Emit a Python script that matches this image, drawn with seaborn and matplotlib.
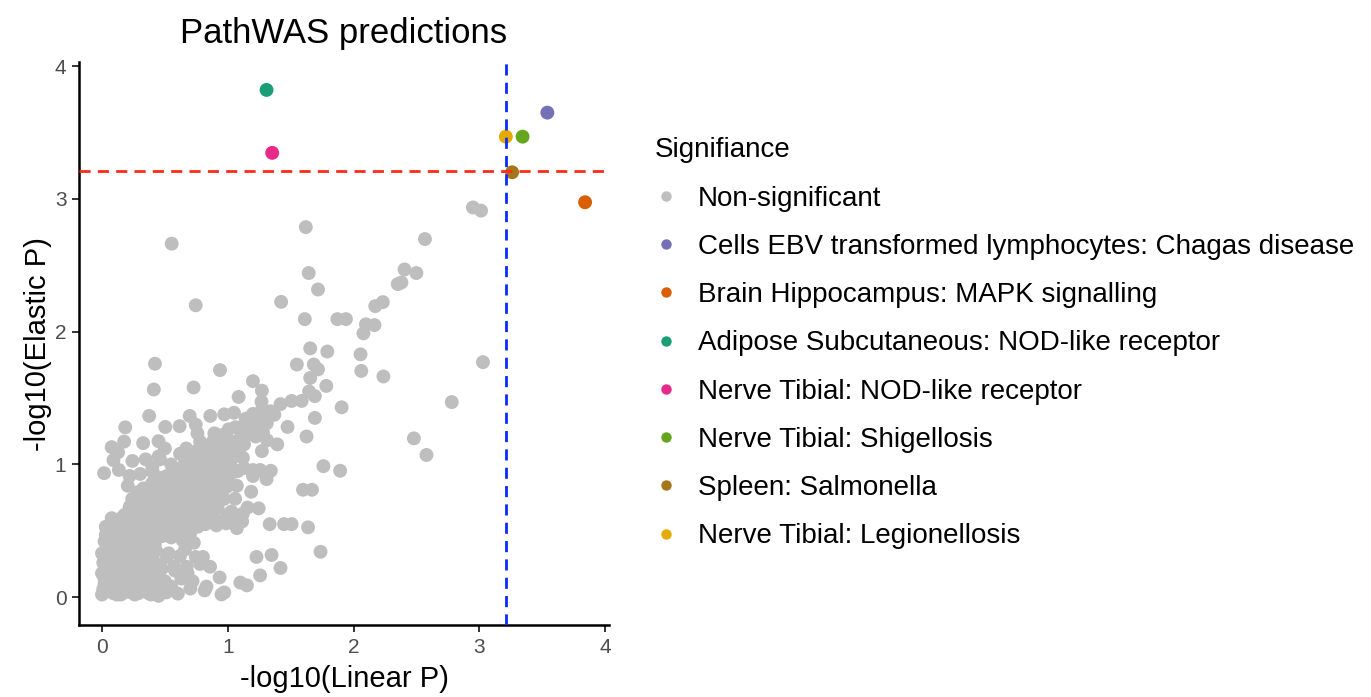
import matplotlib
matplotlib.use("Agg")
import matplotlib.pyplot as plt
from matplotlib.lines import Line2D
import seaborn as sns
import pandas as pd

# ---------------- data ----------------
gray_x = [
    2.948, 3.013, 1.620, 0.554, 2.567, 1.643, 2.405, 2.499, 1.717, 2.351, 2.380, 1.424, 0.745, 2.172, 2.232,
    1.612, 1.871, 1.939, 2.098, 2.166, 2.078, 1.655, 1.791, 2.055, 0.421, 1.549, 1.683, 1.717, 0.938, 2.061,
    2.237, 1.655, 3.028, 1.200, 0.728, 0.412, 1.783, 1.271, 1.646, 1.692, 1.086, 1.268, 1.419, 1.507, 1.587,
    1.905, 2.780, 0.375, 0.697, 0.861, 0.972, 1.049, 1.143, 1.228, 1.313, 1.370, 1.692, 0.185, 0.503, 0.617,
    0.745, 0.759, 0.893, 1.006, 1.114, 1.475, 1.222, 0.176, 0.327, 0.449, 2.479, 1.626, 1.313, 1.393, 0.077,
    0.128, 0.788, 0.907, 1.001, 1.058, 1.129, 1.271, 2.579, 0.091, 0.242, 0.347, 0.461, 0.660, 0.759, 0.844,
    0.958, 1.100, 0.017, 0.134, 0.219, 0.304, 0.404, 0.517, 0.603, 0.702, 1.129, 1.200, 1.257, 1.342, 1.200,
    1.308, 1.760, 1.893, 0.205, 0.339, 1.072, 1.186, 1.598, 1.669, 0.262, 1.058, 1.157, 1.245, 1.029, 0.077,
    1.114, 1.072, 1.333, 1.447, 1.507, 1.638, 0.830, 0.910, 0.987, 1.737, 1.228, 1.348, 1.419, 1.257, 1.100,
    1.152, 0.972, 0.950, 0.935, 0.830, 0.816, 0.702, 0.603, 0.512, 0.859, 0.802, 0.745, 0.674, 0.631, 0.574,
    0.517, 0.475,
    # dense block near origin
    0.00, 0.02, 0.00, 0.01, 0.00, 0.03, 0.06, 0.05, 0.07, 0.04, 0.09, 0.11, 0.10, 0.12, 0.10, 0.13, 0.15,
    0.17, 0.16, 0.18, 0.15, 0.19, 0.21, 0.23, 0.22, 0.24, 0.21, 0.26, 0.28, 0.27, 0.29, 0.26, 0.30, 0.32,
    0.33, 0.34, 0.31, 0.35, 0.37, 0.39, 0.38, 0.40, 0.36, 0.42, 0.43, 0.41, 0.44,
    0.05, 0.08, 0.02, 0.13, 0.14, 0.19, 0.20, 0.25, 0.25, 0.30, 0.30, 0.35, 0.36, 0.40, 0.44, 0.07, 0.17,
    0.23, 0.33, 0.39, 0.45,
    0.02, 0.04, 0.08, 0.12, 0.12, 0.16, 0.18, 0.20, 0.24, 0.27, 0.29, 0.32, 0.34, 0.37, 0.40, 0.42, 0.06,
    0.01, 0.09, 0.03,
    0.47, 0.50, 0.46, 0.55, 0.58, 0.62, 0.68, 0.72, 0.78, 0.66, 0.53,
    0.03, 0.08, 0.06, 0.12, 0.17, 0.14, 0.20, 0.23, 0.27, 0.25, 0.31, 0.33, 0.36, 0.39, 0.42, 0.45, 0.48,
    0.51, 0.55, 0.57, 0.60, 0.64, 0.67, 0.70, 0.73, 0.76, 0.79,
    0.10, 0.16, 0.21, 0.29, 0.35, 0.31, 0.38, 0.44, 0.46, 0.53, 0.56, 0.61, 0.64, 0.69, 0.72, 0.75, 0.80,
    0.83, 0.87, 0.91, 0.95, 0.99, 0.62, 0.52, 0.42, 0.36, 0.29, 0.66, 0.78, 0.84, 0.91, 0.96, 1.04, 0.58,
    0.62, 0.68, 0.48, 0.41,
    # diagonal band
    0.20, 0.26, 0.32, 0.38, 0.44, 0.50, 0.56, 0.62, 0.68, 0.74, 0.80, 0.86, 0.92, 0.98,
    0.27, 0.33, 0.39, 0.45, 0.51, 0.57, 0.63, 0.69, 0.75, 0.81, 0.87, 0.93, 0.99,
    0.18, 0.24, 0.30, 0.36, 0.42, 0.48, 0.54, 0.60, 0.66, 0.72, 0.78, 0.84, 0.90,
    0.82, 0.88, 0.94, 1.00, 1.06, 1.12, 0.76,
    0.18, 0.22, 0.26, 0.24, 0.30, 0.28, 0.34, 0.37, 0.33, 0.41, 0.44, 0.40, 0.47, 0.50, 0.52, 0.55, 0.58,
    0.60, 0.63, 0.66, 0.68, 0.71, 0.74, 0.76, 0.79, 0.82, 0.85, 0.88, 0.90, 0.94, 0.97, 1.00, 0.86, 0.92,
    0.48, 0.57, 0.65, 0.72,
    0.70, 0.75, 0.80, 0.83, 0.87, 0.90, 0.93, 0.96, 1.02, 1.05, 1.08, 1.12, 0.78, 0.98, 1.03, 0.62, 0.67,
    0.55, 0.40, 0.45, 0.50, 0.73, 0.85, 0.92, 1.00, 0.88, 0.95, 1.09,
    1.15, 1.18, 1.22, 1.25, 1.28, 1.31, 1.20, 1.27, 1.34, 1.10, 1.06,
]
gray_y = [
    2.935, 2.911, 2.787, 2.662, 2.697, 2.441, 2.468, 2.441, 2.317, 2.358, 2.370, 2.224, 2.198, 2.192, 2.222,
    2.094, 2.094, 2.094, 2.055, 2.049, 1.987, 1.874, 1.850, 1.829, 1.758, 1.752, 1.752, 1.716, 1.710, 1.704,
    1.662, 1.651, 1.770, 1.627, 1.579, 1.564, 1.591, 1.555, 1.549, 1.514, 1.508, 1.472, 1.454, 1.478, 1.478,
    1.430, 1.469, 1.365, 1.365, 1.365, 1.377, 1.389, 1.344, 1.329, 1.374, 1.374, 1.350, 1.279, 1.282, 1.288,
    1.300, 1.234, 1.234, 1.264, 1.285, 1.282, 1.210, 1.172, 1.160, 1.175, 1.196, 1.210, 1.181, 1.151, 1.130,
    1.091, 1.127, 1.121, 1.127, 1.145, 1.151, 1.100, 1.071, 1.032, 1.026, 1.038, 1.038, 1.017, 1.047, 1.047,
    1.032, 1.062, 0.934, 0.958, 0.913, 0.928, 0.943, 0.913, 0.958, 0.943, 0.972, 0.958, 0.958, 0.952, 0.913,
    0.889, 0.987, 0.952, 0.839, 0.809, 0.839, 0.794, 0.809, 0.809, 0.735, 0.741, 0.675, 0.669, 0.645, 0.595,
    0.571, 0.520, 0.550, 0.550, 0.550, 0.526, 0.556, 0.541, 0.556, 0.342, 0.303, 0.318, 0.220, 0.164, 0.110,
    0.089, 0.036, 0.021, 0.149, 0.080, 0.051, 0.065, 0.027, 0.036, 0.229, 0.303, 0.303, 0.229, 0.140, 0.229,
    0.303, 0.214,
    0.02, 0.10, 0.18, 0.26, 0.33, 0.05, 0.14, 0.22, 0.30, 0.38, 0.03, 0.11, 0.19, 0.27, 0.35, 0.42, 0.02,
    0.09, 0.17, 0.24, 0.32, 0.38, 0.04, 0.13, 0.21, 0.29, 0.36, 0.02, 0.09, 0.18, 0.26, 0.34, 0.41, 0.05,
    0.14, 0.22, 0.31, 0.37, 0.03, 0.11, 0.19, 0.28, 0.45, 0.06, 0.35, 0.42, 0.15,
    0.07, 0.24, 0.42, 0.06, 0.24, 0.13, 0.29, 0.07, 0.23, 0.15, 0.36, 0.08, 0.27, 0.35, 0.25, 0.35, 0.42,
    0.40, 0.44, 0.02, 0.01,
    0.14, 0.29, 0.18, 0.02, 0.33, 0.13, 0.31, 0.21, 0.34, 0.13, 0.03, 0.27, 0.40, 0.15, 0.23, 0.40, 0.40,
    0.06, 0.47, 0.53,
    0.05, 0.12, 0.24, 0.08, 0.20, 0.31, 0.18, 0.12, 0.25, 0.36, 0.33,
    0.47, 0.44, 0.52, 0.50, 0.47, 0.56, 0.53, 0.45, 0.50, 0.58, 0.47, 0.55, 0.51, 0.60, 0.49, 0.56, 0.46,
    0.52, 0.45, 0.58, 0.50, 0.43, 0.55, 0.48, 0.41, 0.53, 0.57,
    0.57, 0.60, 0.58, 0.56, 0.60, 0.66, 0.67, 0.63, 0.82, 0.67, 0.78, 0.72, 0.62, 0.76, 0.58, 0.71, 0.66,
    0.77, 0.84, 0.72, 0.80, 0.83, 0.85, 0.74, 0.73, 0.79, 0.74, 0.92, 0.86, 0.95, 0.98, 0.93, 0.94, 0.53,
    0.57, 0.62, 0.58, 0.55,
    # diagonal band
    0.47, 0.52, 0.56, 0.61, 0.65, 0.70, 0.74, 0.79, 0.83, 0.88, 0.92, 0.96, 1.01, 1.05,
    0.44, 0.49, 0.53, 0.58, 0.62, 0.67, 0.71, 0.75, 0.80, 0.84, 0.88, 0.93, 0.97,
    0.55, 0.60, 0.64, 0.69, 0.73, 0.78, 0.82, 0.87, 0.91, 0.96, 1.00, 1.04, 1.08,
    0.55, 0.60, 0.57, 0.62, 0.60, 0.63, 0.60,
    0.62, 0.68, 0.64, 0.74, 0.70, 0.79, 0.63, 0.72, 0.82, 0.66, 0.77, 0.86, 0.71, 0.63, 0.81, 0.72, 0.88,
    0.66, 0.77, 0.85, 0.69, 0.79, 0.64, 0.90, 0.74, 0.83, 0.70, 0.92, 0.78, 0.86, 0.74, 0.90, 0.62, 0.67,
    0.90, 0.95, 0.97, 0.99,
    1.05, 1.10, 0.98, 1.08, 1.02, 1.13, 0.97, 1.08, 1.01, 1.10, 0.95, 1.05, 1.17, 1.19, 1.17, 1.08, 1.12,
    1.00, 0.98, 1.06, 1.12, 0.95, 1.14, 1.05, 1.12, 1.17, 1.22, 1.14,
    1.22, 1.30, 1.26, 1.34, 1.24, 1.31, 1.38, 1.41, 1.40, 1.20, 1.28,
]

sig_labels = [
    "Cells EBV transformed lymphocytes: Chagas disease",
    "Brain Hippocampus: MAPK signalling",
    "Adipose Subcutaneous: NOD-like receptor",
    "Nerve Tibial: NOD-like receptor",
    "Nerve Tibial: Shigellosis",
    "Spleen: Salmonella",
    "Nerve Tibial: Legionellosis",
]
sig_x = [3.54, 3.84, 1.308, 1.353, 3.343, 3.26, 3.21]
sig_y = [3.649, 2.974, 3.82, 3.346, 3.468, 3.20, 3.468]
sig_colors = ["#7570B3", "#D95F02", "#1B9E77", "#E7298A", "#66A61E", "#A6761D", "#E6AB02"]

ns_label = "Non-significant"
ns_color = "#BEBEBE"
threshold = 3.21

legend_title = "Signifiance"
title = "PathWAS predictions"
xlabel = "-log10(Linear P)"
ylabel = "-log10(Elastic P)"
ticks = [0, 1, 2, 3, 4]

# ---------------- table ----------------
df = pd.DataFrame({
    "x": gray_x + sig_x,
    "y": gray_y + sig_y,
    "group": [ns_label] * len(gray_x) + sig_labels,
})
hue_order = [ns_label] + sig_labels
palette = dict(zip(hue_order, [ns_color] + sig_colors))

# ---------------- plot ----------------
sns.set_style("white")
plt.rcParams["font.family"] = ["Liberation Sans", "DejaVu Sans"]
plt.rcParams["text.color"] = "black"
plt.rcParams["axes.labelcolor"] = "black"

fig = plt.figure(figsize=(13.71, 6.97), dpi=100)
ax = fig.add_axes([0.0576, 0.103, 0.3866, 0.808])

sns.scatterplot(data=df, x="x", y="y", hue="group", hue_order=hue_order,
                palette=palette, s=100, linewidth=0, ax=ax, legend=False, zorder=3)

ax.axhline(threshold, color="#FF2A1A", linestyle=(0, (4, 2.6)), linewidth=2.0, zorder=4)
ax.axvline(threshold, color="#0A2BFF", linestyle=(0, (4, 2.6)), linewidth=2.0, zorder=4)

ax.set_xlim(-0.183, 4.03)
ax.set_ylim(-0.211, 4.03)
ax.set_xticks(ticks)
ax.set_yticks(ticks)
ax.set_xticklabels([str(t) for t in ticks])
ax.set_yticklabels([str(t) for t in ticks])
ax.tick_params(axis="both", labelsize=15, labelcolor="#4D4D4D", color="#333333",
               length=5, width=1.4, direction="out", bottom=True, left=True, pad=4)
for side in ["top", "right"]:
    ax.spines[side].set_visible(False)
for side in ["left", "bottom"]:
    ax.spines[side].set_color("black")
    ax.spines[side].set_linewidth(1.8)

ax.set_xlabel(xlabel, fontsize=21, labelpad=6, color="black")
ax.set_ylabel(ylabel, fontsize=21, labelpad=2, color="black")
ax.set_title(title, fontsize=25, pad=14, color="black")

handles = [Line2D([0], [0], marker="o", linestyle="none", markersize=7.5,
                  markerfacecolor=palette[k], markeredgewidth=0) for k in hue_order]
leg = fig.legend(handles, hue_order, loc="upper left",
                 bbox_to_anchor=(635 / 1371, 1 - 118 / 697), frameon=False,
                 title=legend_title, fontsize=20, title_fontsize=20,
                 alignment="left", labelspacing=0.8, handlelength=0.8,
                 handletextpad=0.75, borderpad=0.2)
for t in leg.get_texts():
    t.set_color("black")
leg.get_title().set_color("black")

fig.savefig("out.png", dpi=100)
